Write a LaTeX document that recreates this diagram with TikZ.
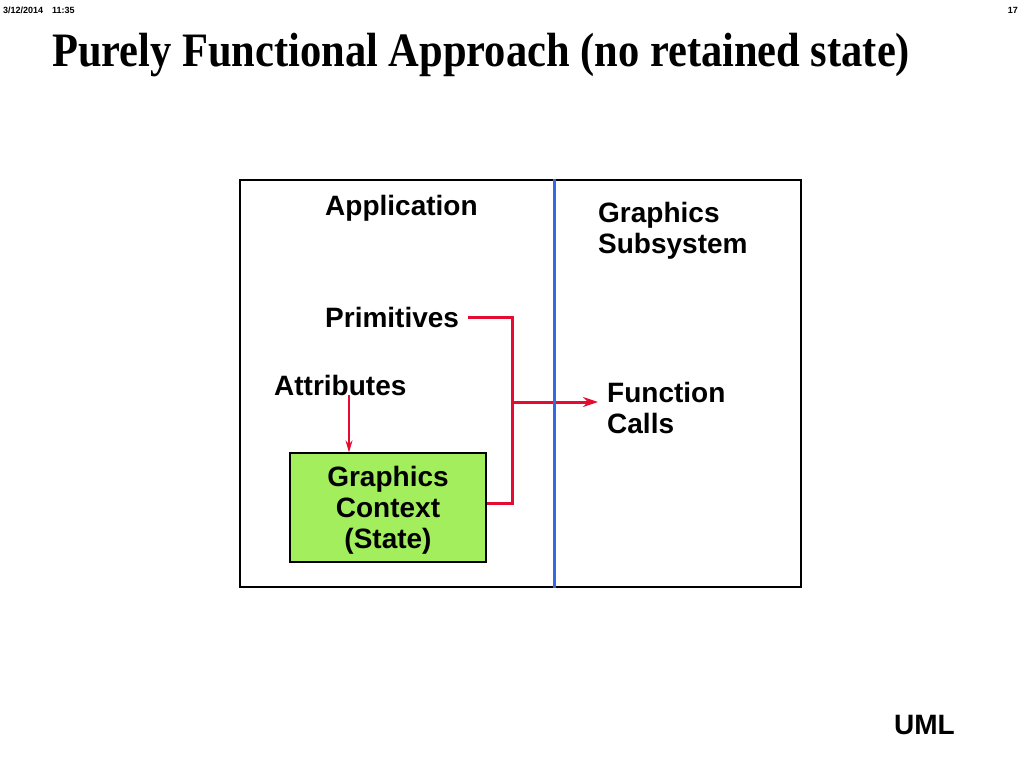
\documentclass[tikz,border=0pt]{standalone}
\usepackage{fontspec}
\setmainfont{Liberation Serif}
\setsansfont{Liberation Sans}
\usetikzlibrary{arrows.meta}
\definecolor{wirered}{RGB}{228,12,48}
\definecolor{splitblue}{RGB}{52,104,228}
\definecolor{ctxgreen}{RGB}{162,238,92}

\begin{document}
\begin{tikzpicture}[ x=1pt, y=-1pt, >={Stealth[length=15pt,width=10pt]},
        tag/.style={ font=\fontsize{28}{31}\selectfont\sffamily\bfseries,
          inner sep=0pt, align=left },
        stamp/.style={ font=\fontsize{9}{10}\selectfont\sffamily\bfseries,
          inner sep=0pt },
        wire/.style={ draw=wirered, line width=3pt },
        thinwire/.style={ draw=wirered, line width=1.4pt,
          >={Stealth[length=12pt,width=7pt]} } ]
        \useasboundingbox (0,0) rectangle (1024,768);

        \node[stamp,anchor=west] (date) at (3,10) {3/12/2014\quad 11:35};
        \node[stamp,anchor=east] (page) at (1018,10) {17};
        \node[anchor=west,inner sep=0pt,xscale=0.885,
          font=\fontsize{48}{52}\selectfont\bfseries] (title) at (52,55)
          {Purely Functional Approach (no retained state)};

        \node[draw,line width=1.2pt,minimum width=561pt,minimum height=407pt,
          inner sep=0pt] (frame) at (520.5,383.5) {};

        \foreach \x/\y/\t/\n in {325/208/Application/app,325/317/Primitives/prim,
          274/385/Attributes/attr,598/231/Graphics\\Subsystem/gfx,
          607/408/Function\\Calls/func}
        \node[tag,anchor=west] (\n) at (\x,\y) {\t};

        \node[tag,align=center,draw,fill=ctxgreen,line width=1.2pt,
          minimum width=196pt,minimum height=109pt] (ctx) at (388,507.5) {};
        \node[tag,align=center] (ctxtext) at (388,510.5)
          {Graphics\\Context\\(State)};
        \node[tag,anchor=south east] (uml) at (955,735) {UML};

        \coordinate (bus) at (512,402);
        \coordinate (ctxport) at (ctx.east |- 0,503);
        \draw[wire] ([xshift=9pt]prim.east) -| (bus) |- (ctxport);
        \draw[wire,->] (bus) -- ([xshift=-9pt]func.west |- bus);
        \draw[thinwire,->] (attr.south -| 349,402) -- (ctx.north -| 349,0);
        \draw[splitblue,line width=3pt] (frame.north -| 554,0) -- (frame.south -| 554,0);
      \end{tikzpicture}
\end{document}
